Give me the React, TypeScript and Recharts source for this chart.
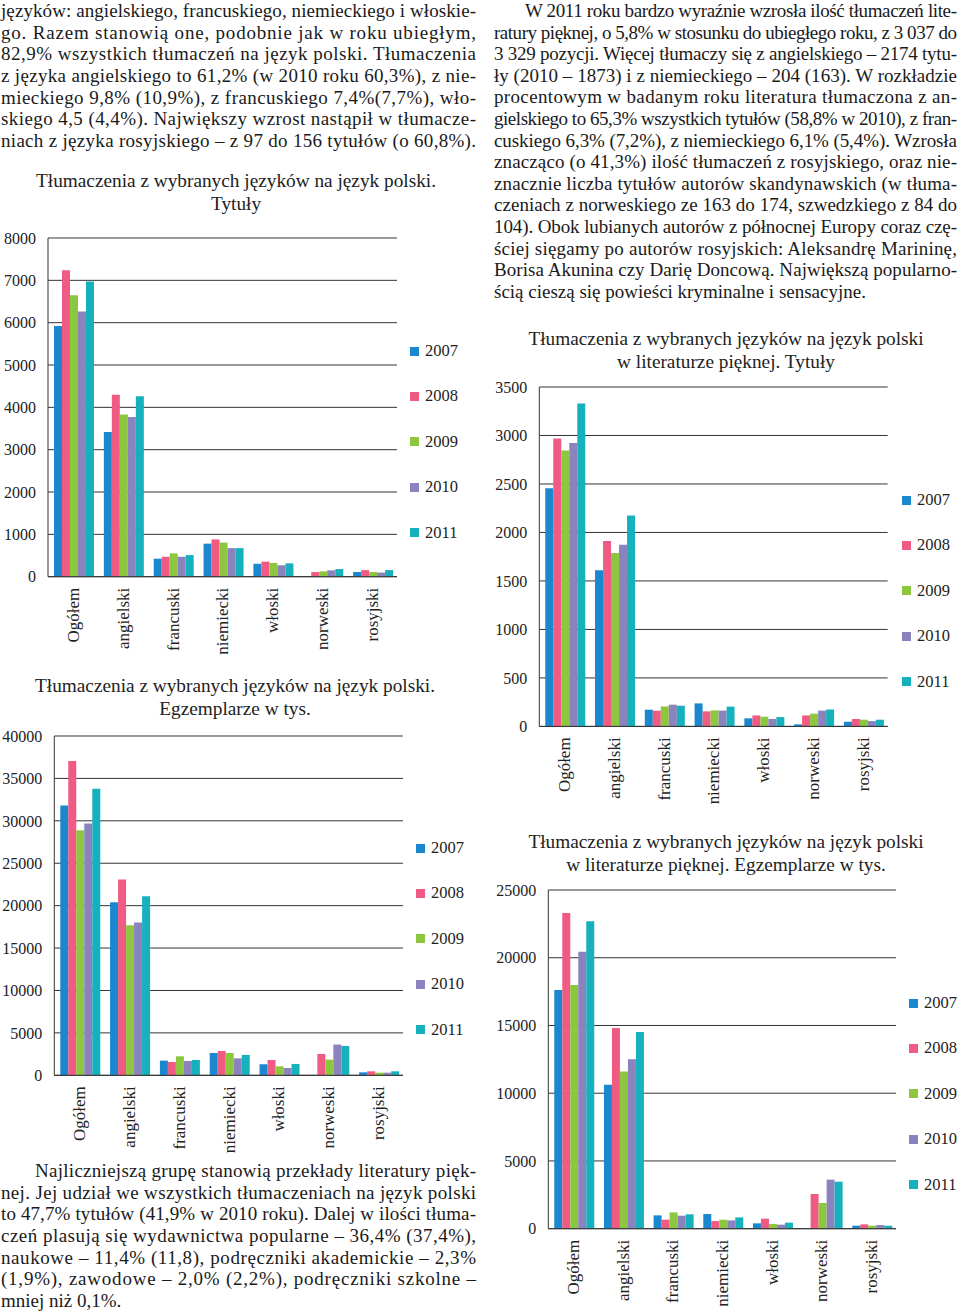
import { BarChart, Bar, XAxis, YAxis, CartesianGrid } from "recharts";

const categories = ["Ogółem", "angielski", "francuski", "niemiecki", "włoski", "norweski", "rosyjski"];
const years = ["2007", "2008", "2009", "2010", "2011"];

// Tłumaczenia - tytuły
const titles2007 = [5920, 3420, 425, 780, 305, 0, 110];
const titles2008 = [7240, 4300, 470, 880, 355, 110, 155];
const titles2009 = [6650, 3830, 550, 805, 325, 125, 110];
const titles2010 = [6265, 3770, 470, 675, 270, 150, 97];
const titles2011 = [6970, 4265, 510, 675, 315, 180, 156];

// Tłumaczenia - egzemplarze w tys.
const copies2007 = [31800, 20400, 1730, 2630, 1300, 0, 350];
const copies2008 = [37050, 23070, 1570, 2870, 1810, 2520, 470];
const copies2009 = [28880, 17680, 2240, 2630, 1060, 1850, 310];
const copies2010 = [29670, 18000, 1690, 2000, 860, 3620, 310];
const copies2011 = [33790, 21100, 1810, 2400, 1340, 3460, 470];

// Literatura piękna - tytuły
const litTitles2007 = [2455, 1610, 172, 237, 83, 21, 48];
const litTitles2008 = [2968, 1912, 162, 155, 113, 113, 76];
const litTitles2009 = [2844, 1788, 206, 165, 100, 131, 69];
const litTitles2010 = [2923, 1873, 224, 163, 76, 163, 55];
const litTitles2011 = [3329, 2174, 213, 204, 96, 174, 69];

// Literatura piękna - egzemplarze w tys.
const litCopies2007 = [17620, 10630, 985, 1085, 395, 50, 220];
const litCopies2008 = [23300, 14810, 665, 565, 740, 2560, 320];
const litCopies2009 = [17990, 11610, 1205, 665, 345, 1895, 220];
const litCopies2010 = [20450, 12500, 960, 615, 295, 3620, 270];
const litCopies2011 = [22690, 14520, 1060, 835, 445, 3470, 220];

const ticksTitles = [0, 1000, 2000, 3000, 4000, 5000, 6000, 7000, 8000];
const ticksCopies = [0, 5000, 10000, 15000, 20000, 25000, 30000, 35000, 40000];
const ticksLitTitles = [0, 500, 1000, 1500, 2000, 2500, 3000, 3500];
const ticksLitCopies = [0, 5000, 10000, 15000, 20000, 25000];

const COLORS = ["#1a87cf", "#ef5b82", "#8dc63f", "#8b83bd", "#17b0bd"];
const FONT = "Liberation Serif, Times New Roman, serif";
const INK = "#222";

const toRows = (series: number[][]) =>
  categories.map((name, i) => {
    const row: Record<string, string | number> = { name };
    years.forEach((y, j) => {
      row[y] = series[j][i];
    });
    return row;
  });

const topLeftText = [
  "języków: angielskiego, francuskiego, niemieckiego i włoskie-",
  "go. Razem stanowią one, podobnie jak w roku ubiegłym,",
  "82,9% wszystkich tłumaczeń na język polski. Tłumaczenia",
  "z języka angielskiego to 61,2% (w 2010 roku 60,3%), z nie-",
  "mieckiego 9,8% (10,9%), z francuskiego 7,4%(7,7%), wło-",
  "skiego 4,5 (4,4%). Największy wzrost nastąpił w tłumacze-",
  "niach z języka rosyjskiego – z 97 do 156 tytułów (o 60,8%).",
];

const topRightText = [
  "W 2011 roku bardzo wyraźnie wzrosła ilość tłumaczeń lite-",
  "ratury pięknej, o 5,8% w stosunku do ubiegłego roku, z 3 037 do",
  "3 329 pozycji. Więcej tłumaczy się z angielskiego – 2174 tytu-",
  "ły (2010 – 1873) i z niemieckiego – 204 (163). W rozkładzie",
  "procentowym w badanym roku literatura tłumaczona z an-",
  "gielskiego to 65,3% wszystkich tytułów (58,8% w 2010), z fran-",
  "cuskiego 6,3% (7,2%), z niemieckiego 6,1% (5,4%). Wzrosła",
  "znacząco (o 41,3%) ilość tłumaczeń z rosyjskiego, oraz nie-",
  "znacznie liczba tytułów autorów skandynawskich (w tłuma-",
  "czeniach z norweskiego ze 163 do 174, szwedzkiego z 84 do",
  "104). Obok lubianych autorów z północnej Europy coraz czę-",
  "ściej sięgamy po autorów rosyjskich: Aleksandrę Marininę,",
  "Borisa Akunina czy Darię Doncową. Największą popularno-",
  "ścią cieszą się powieści kryminalne i sensacyjne.",
];

const bottomLeftText = [
  "Najliczniejszą grupę stanowią przekłady literatury pięk-",
  "nej. Jej udział we wszystkich tłumaczeniach na język polski",
  "to 47,7% tytułów (41,9% w 2010 roku). Dalej w ilości tłuma-",
  "czeń plasują się wydawnictwa popularne – 36,4% (37,4%),",
  "naukowe – 11,4% (11,8), podręczniki akademickie – 2,3%",
  "(1,9%), zawodowe – 2,0% (2,2%), podręczniki szkolne –",
  "mniej niż 0,1%.",
];

// paragraph lines; last line of a paragraph is left ragged unless it's full
const Paragraph = ({ lines, left, right, indent, y0, step, lastJustified }: any) => (
  <>
    {lines.map((t: string, i: number) => {
      const x = i === 0 ? left + indent : left;
      const justify = i < lines.length - 1 || lastJustified;
      return (
        <text
          key={i}
          x={x}
          y={y0 + i * step}
          fontSize={19}
          fill="#1a1a1a"
          {...(justify ? { textLength: right - x, lengthAdjust: "spacing" } : {})}
        >
          {t}
        </text>
      );
    })}
  </>
);

const XTick = ({ x, y, payload }: any) => (
  <text
    x={x}
    y={y}
    transform={`rotate(-90 ${x} ${y})`}
    textAnchor="end"
    dy="0.35em"
    fontSize={17}
    fontFamily={FONT}
    fill={INK}
  >
    {payload.value}
  </text>
);

interface ChartProps {
  rows: Record<string, string | number>[];
  ticks: number[];
  boxLeft: number;
  plot: { left: number; right: number; top: number; bottom: number };
}

const GroupedBars = ({ rows, ticks, boxLeft, plot }: ChartProps) => {
  const width = plot.right + 5 - boxLeft;
  const height = plot.bottom - plot.top + 10 + 90;
  return (
    <div style={{ position: "absolute", left: boxLeft, top: plot.top - 10 }}>
      <BarChart
        width={width}
        height={height}
        data={rows}
        margin={{ top: 10, right: 5, left: 0, bottom: 0 }}
        barCategoryGap="12%"
        barGap={0}
      >
        <CartesianGrid vertical={false} stroke="#333" />
        <XAxis
          dataKey="name"
          interval={0}
          height={90}
          tickLine={false}
          tickSize={0}
          tickMargin={11}
          axisLine={{ stroke: "#333" }}
          tick={<XTick />}
        />
        <YAxis
          width={plot.left - boxLeft}
          domain={[0, ticks[ticks.length - 1]]}
          ticks={ticks}
          interval={0}
          tickLine={false}
          tickSize={0}
          tickMargin={12}
          axisLine={{ stroke: "#333" }}
          tick={{ fill: INK, fontSize: 16, fontFamily: FONT }}
        />
        {years.map((y, i) => (
          <Bar key={y} dataKey={y} fill={COLORS[i]} isAnimationActive={false} />
        ))}
      </BarChart>
    </div>
  );
};

const YearLegend = ({ left, top }: { left: number; top: number }) => (
  <div style={{ position: "absolute", left, top, fontFamily: FONT, fontSize: 16.5, color: INK }}>
    {years.map((y, i) => (
      <div key={y} style={{ position: "absolute", top: i * 45.4 - 10, left: 0, height: 20, display: "flex", alignItems: "center", whiteSpace: "nowrap" }}>
        <span style={{ width: 9, height: 9, background: COLORS[i], display: "inline-block", marginRight: 6 }} />
        {y}
      </div>
    ))}
  </div>
);

const Title = ({ cx, y, lines }: { cx: number; y: number; lines: string[] }) => (
  <>
    {lines.map((t, i) => (
      <text key={i} x={cx} y={y + i * 23} textAnchor="middle" fontSize={19.3} fill={INK}>
        {t}
      </text>
    ))}
  </>
);

export default function App() {
  return (
    <div style={{ position: "absolute", left: 0, top: 0, width: 960, height: 1312, background: "#fff", overflow: "hidden", fontFamily: FONT }}>
      <svg width={960} height={1312} style={{ position: "absolute", left: 0, top: 0 }} fontFamily={FONT}>
        <Paragraph lines={topLeftText} left={1} right={476} indent={0} y0={17} step={21.67} lastJustified />
        <Paragraph lines={topRightText} left={494} right={957} indent={31} y0={17} step={21.6} />
        <Paragraph lines={bottomLeftText} left={1} right={476} indent={34} y0={1177} step={21.67} />
        <Title cx={236} y={187} lines={["Tłumaczenia z wybranych języków na język polski.", "Tytuły"]} />
        <Title cx={235} y={692} lines={["Tłumaczenia z wybranych języków na język polski.", "Egzemplarze w tys."]} />
        <Title cx={726} y={345} lines={["Tłumaczenia z wybranych języków na język polski", "w literaturze pięknej. Tytuły"]} />
        <Title cx={726} y={848} lines={["Tłumaczenia z wybranych języków na język polski", "w literaturze pięknej. Egzemplarze w tys."]} />
      </svg>

      <GroupedBars
        rows={toRows([titles2007, titles2008, titles2009, titles2010, titles2011])}
        ticks={ticksTitles}
        boxLeft={0}
        plot={{ left: 48, right: 397, top: 238.3, bottom: 577 }}
      />
      <YearLegend left={410} top={351} />

      <GroupedBars
        rows={toRows([copies2007, copies2008, copies2009, copies2010, copies2011])}
        ticks={ticksCopies}
        boxLeft={0}
        plot={{ left: 54.3, right: 403, top: 735.7, bottom: 1075 }}
      />
      <YearLegend left={416} top={848} />

      <GroupedBars
        rows={toRows([litTitles2007, litTitles2008, litTitles2009, litTitles2010, litTitles2011])}
        ticks={ticksLitTitles}
        boxLeft={488}
        plot={{ left: 539.3, right: 887.7, top: 387.3, bottom: 726.7 }}
      />
      <YearLegend left={902} top={500} />

      <GroupedBars
        rows={toRows([litCopies2007, litCopies2008, litCopies2009, litCopies2010, litCopies2011])}
        ticks={ticksLitCopies}
        boxLeft={488}
        plot={{ left: 548.3, right: 896, top: 890.3, bottom: 1229 }}
      />
      <YearLegend left={909} top={1003} />
    </div>
  );
}
